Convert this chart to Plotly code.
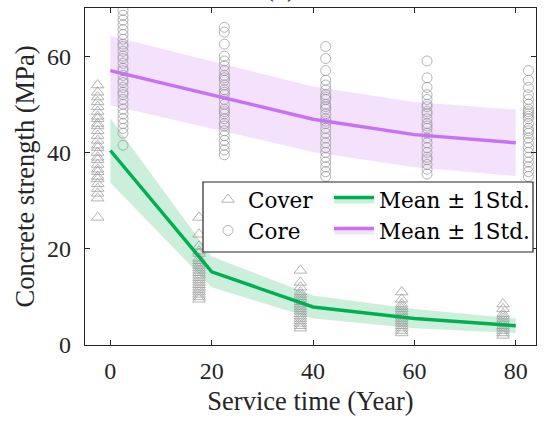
import plotly.graph_objects as go

years = [0, 20, 40, 60, 80]

cover_pts = [
    [54.0, 52.5, 51.5, 50.5, 49.5, 48.5, 47.5, 47.0, 46.0, 45.5, 44.5, 43.5, 42.5, 41.5,
     41.0, 40.0, 39.0, 38.5, 37.5, 36.5, 36.0, 35.0, 34.5, 33.5, 32.5, 31.5, 30.5, 26.5],
    [26.5, 23.0, 20.5, 19.5, 19.0, 18.0, 17.5, 17.0, 16.5, 16.0, 15.5, 15.0, 14.5, 14.0,
     13.5, 13.0, 12.5, 12.0, 11.5, 11.0, 10.5, 10.0, 9.5],
    [15.5, 13.0, 12.0, 11.0, 10.5, 10.0, 9.5, 9.0, 8.5, 8.0, 7.5, 7.0, 6.5, 6.0, 5.5,
     5.0, 4.5, 4.0, 3.5],
    [11.0, 9.5, 8.5, 8.0, 7.5, 7.0, 6.5, 6.0, 5.5, 5.0, 4.5, 4.0, 3.5, 3.0, 2.5],
    [8.5, 7.5, 6.5, 6.0, 5.5, 5.0, 4.5, 4.0, 3.5, 3.0, 2.5, 2.0],
]

core_pts = [
    [69.5, 68.5, 67.5, 66.5, 65.5, 64.5, 63.5, 62.5, 62.0, 61.0, 60.0, 59.5, 58.5, 57.5,
     57.0, 56.0, 55.0, 54.5, 53.5, 52.5, 52.0, 51.0, 50.0, 49.0, 48.0, 47.0, 46.0, 45.0,
     44.0, 41.5],
    [66.0, 65.0, 62.5, 60.0, 59.0, 58.0, 57.0, 56.0, 55.5, 55.0, 54.0, 53.0, 52.5, 52.0,
     51.0, 50.0, 49.0, 48.5, 48.0, 47.0, 46.0, 45.5, 44.5, 43.5, 42.5, 41.5, 40.5, 39.5],
    [62.0, 59.5, 57.0, 55.0, 54.0, 53.0, 52.0, 51.5, 51.0, 50.0, 49.5, 49.0, 48.0, 47.0,
     46.5, 46.0, 45.0, 44.0, 43.0, 42.0, 41.0, 40.0, 39.0, 38.0, 37.0, 36.0, 35.0],
    [59.0, 55.5, 53.5, 52.0, 51.0, 50.0, 49.5, 48.5, 48.0, 47.0, 46.0, 45.5, 45.0, 44.0,
     43.0, 42.0, 41.0, 40.0, 39.0, 38.5, 37.5, 36.5, 35.5],
    [57.0, 55.0, 53.5, 52.0, 51.0, 50.0, 49.0, 48.5, 48.0, 47.5, 47.0, 46.0, 45.0, 44.5,
     44.0, 43.0, 42.0, 41.0, 40.0, 39.0, 38.0, 37.0, 36.0, 35.0],
]

cover_mean = [40.4, 15.2, 7.9, 5.5, 4.0]
cover_std = [6.7, 3.2, 2.4, 2.0, 1.5]
core_mean = [57.0, 52.0, 46.9, 43.7, 42.0]
core_std = [7.2, 7.0, 6.8, 6.8, 6.9]

offset = 2.5
FONT = "Liberation Serif"
LFONT = "DejaVu Serif"
GREEN = "rgb(0,176,80)"
GREEN_BAND = "rgba(0,176,80,0.2)"
PURPLE = "rgb(200,112,246)"
PURPLE_BAND = "rgba(200,112,246,0.2)"
PT = "rgba(150,150,150,0.7)"


def flat(groups, shift):
    xs, ys = [], []
    for yr, vals in zip(years, groups):
        for v in vals:
            xs.append(yr + shift)
            ys.append(v)
    return xs, ys


def band(mean, std):
    up = [m + s for m, s in zip(mean, std)]
    lo = [m - s for m, s in zip(mean, std)]
    return years + years[::-1], up + lo[::-1]


fig = go.Figure()

for mean, std, col in [(core_mean, core_std, PURPLE_BAND), (cover_mean, cover_std, GREEN_BAND)]:
    bx, by = band(mean, std)
    fig.add_trace(go.Scatter(x=bx, y=by, fill="toself", fillcolor=col, mode="lines",
                             line=dict(width=0), showlegend=False, hoverinfo="skip"))

cx, cy = flat(cover_pts, -offset)
fig.add_trace(go.Scatter(x=cx, y=cy, mode="markers", name="Cover",
                         marker=dict(symbol="triangle-up-open", size=11, color=PT,
                                     line=dict(width=1, color=PT)),
                         legend="legend"))
kx, ky = flat(core_pts, offset)
fig.add_trace(go.Scatter(x=kx, y=ky, mode="markers", name="Core",
                         marker=dict(symbol="circle-open", size=10, color=PT,
                                     line=dict(width=1, color=PT)),
                         legend="legend"))

fig.add_trace(go.Scatter(x=years, y=cover_mean, mode="lines", line=dict(color=GREEN, width=3.5),
                         showlegend=False))
fig.add_trace(go.Scatter(x=years, y=core_mean, mode="lines", line=dict(color=PURPLE, width=3.5),
                         showlegend=False))

fig.add_trace(go.Scatter(x=[None], y=[None], mode="lines", fill="toself", fillcolor=GREEN_BAND,
                         line=dict(color=GREEN, width=3.5), name="Mean \u00b1 1Std.",
                         legend="legend2"))
fig.add_trace(go.Scatter(x=[None], y=[None], mode="lines", fill="toself", fillcolor=PURPLE_BAND,
                         line=dict(color=PURPLE, width=3.5), name="Mean \u00b1 1Std.",
                         legend="legend2"))

L, R, T, B = 85, 9, 8, 79
W, H = 545, 424
pw, ph = W - L - R, H - T - B


def px(xp):
    return (xp - L) / pw


def py(yp):
    return (H - B - yp) / ph


fig.add_shape(type="rect", xref="paper", yref="paper", x0=px(203), x1=px(533),
              y0=py(252), y1=py(182), fillcolor="white",
              line=dict(color="#262626", width=1.2), layer="above")

axis_common = dict(showline=True, linecolor="#262626", linewidth=1.2, mirror="ticks",
                   ticks="inside", ticklen=5, tickwidth=1.2, tickcolor="#262626",
                   showgrid=False, zeroline=False, automargin=False,
                   tickfont=dict(family=FONT, size=24, color="#262626"))

fig.update_layout(
    width=W, height=H,
    margin=dict(l=L, r=R, t=T, b=B, autoexpand=False),
    plot_bgcolor="white", paper_bgcolor="white",
    xaxis=dict(range=[-5, 84], tickvals=years, ticklabelstandoff=4,
               title=dict(text="Service time (Year)", font=dict(family=FONT, size=26.5, color="#262626"),
                          standoff=8),
               **axis_common),
    yaxis=dict(range=[0, 70], tickvals=[0, 20, 40, 60], ticklabelstandoff=8,
               title=dict(text="Concrete strength (MPa)", font=dict(family=FONT, size=26.5, color="#262626"),
                          standoff=4),
               **axis_common),
    legend=dict(x=px(208), y=py(179), xanchor="left", yanchor="top",
                bgcolor="rgba(0,0,0,0)", borderwidth=0,
                font=dict(family=LFONT, size=21.5, color="black"), tracegroupgap=0),
    legend2=dict(x=px(329), y=py(179), xanchor="left", yanchor="top", itemwidth=40,
                 bgcolor="rgba(0,0,0,0)", borderwidth=0,
                 font=dict(family=LFONT, size=21.5, color="black"), tracegroupgap=0),
    annotations=[dict(text="(b)", xref="paper", yref="paper", x=px(280), y=1.0,
                      xanchor="center", yanchor="bottom", yshift=4, showarrow=False,
                      font=dict(family=FONT, size=26.5, color="#262626"))],
)

fig.write_html("out.html", config={"displayModeBar": False},
               post_script="document.body.style.margin='0';")
